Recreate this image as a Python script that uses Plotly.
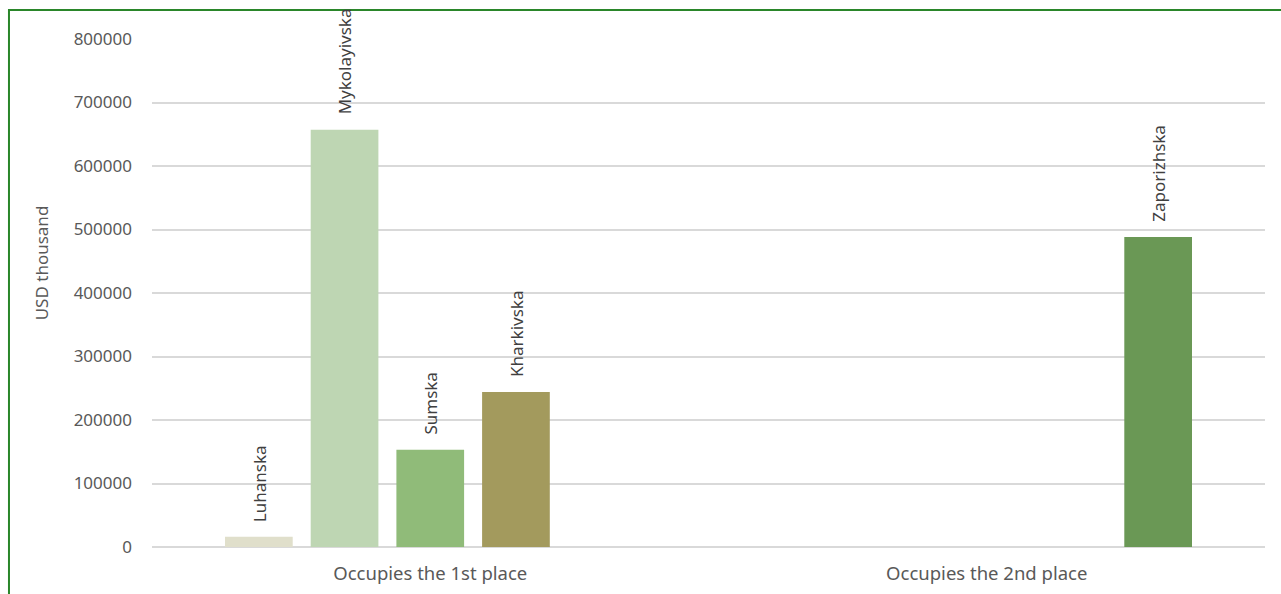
import plotly.graph_objects as go

# Categories and per-region values (USD thousand)
categories = ["Occupies the 1st place", "Occupies the 2nd place"]
regions = ["Luhanska", "Mykolayivska", "Sumska", "Kharkivska", "Zaporizhska"]
luhanska = [16000, None]
mykolayivska = [657000, None]
sumska = [153000, None]
kharkivska = [244000, None]
zaporizhska = [None, 488000]
y_ticks = [0, 100000, 200000, 300000, 400000, 500000, 600000, 700000, 800000]

series_values = [luhanska, mykolayivska, sumska, kharkivska, zaporizhska]
colors = ["#e0dfcb", "#bed6b3", "#90bb79", "#a39a5d", "#6a9855"]

BARGAP = 0.23
BARGROUPGAP = 0.21
FONT = "Noto Sans"
TEXT_GREY = "#595959"

fig = go.Figure()
for name, vals, col in zip(regions, series_values, colors):
    fig.add_trace(go.Bar(
        name=name, x=categories, y=vals, marker=dict(color=col, line=dict(width=0)),
        hoverinfo="name+y",
    ))

# Rotated region labels above each bar, positioned from the bar layout
slot = (1 - BARGAP) / len(regions)
annotations = []
for i, (name, vals) in enumerate(zip(regions, series_values)):
    for ci, v in enumerate(vals):
        if v is None:
            continue
        annotations.append(dict(
            x=ci + (i - (len(regions) - 1) / 2) * slot, y=v, xref="x", yref="y",
            text=name, textangle=-90, showarrow=False,
            xanchor="center", yanchor="bottom", yshift=13,
            font=dict(family=FONT, size=17, color="#404040"),
        ))

# Y-axis title
annotations.append(dict(
    x=-0.099, y=0.56, xref="paper", yref="paper", text="USD thousand",
    textangle=-90, showarrow=False, xanchor="center", yanchor="middle",
    font=dict(family=FONT, size=17, color=TEXT_GREY),
))

fig.update_layout(
    width=1281, height=594,
    margin=dict(l=152, r=16, t=39, b=47),
    paper_bgcolor="white", plot_bgcolor="white",
    barmode="group", bargap=BARGAP, bargroupgap=BARGROUPGAP,
    showlegend=False,
    annotations=annotations,
    font=dict(family=FONT, color=TEXT_GREY),
    xaxis=dict(
        type="category", showgrid=False, showline=False, zeroline=False,
        ticks="", tickfont=dict(family=FONT, size=18.5, color=TEXT_GREY),
        ticklabelstandoff=13, automargin=False,
    ),
    yaxis=dict(
        range=[0, 800000], tickvals=y_ticks, ticktext=[str(t) for t in y_ticks],
        showgrid=True, gridcolor="#d9d9d9", gridwidth=2,
        zeroline=True, zerolinecolor="#d9d9d9", zerolinewidth=2,
        showline=False, ticks="", ticklabelstandoff=19, automargin=False,
        tickfont=dict(family=FONT, size=17, color=TEXT_GREY),
    ),
    shapes=[dict(
        type="rect", xref="paper", yref="paper",
        x0=-0.1285, x1=1.5, y0=-0.5, y1=1.057,
        line=dict(color="#2a862a", width=2), layer="above",
    )],
)

fig.write_html("out.html")
